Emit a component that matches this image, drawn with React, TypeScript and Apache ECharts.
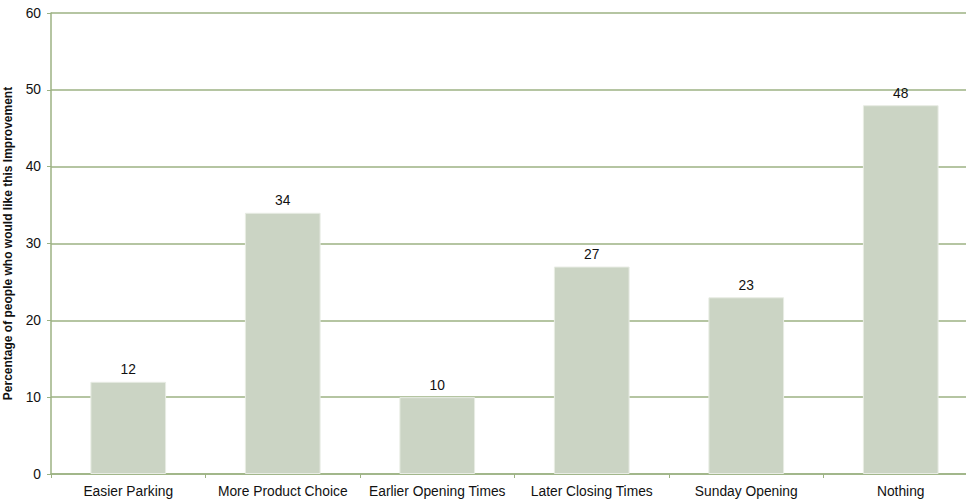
import React, { useEffect, useRef } from "react";
import * as echarts from "echarts";

const categories = [
  "Easier Parking",
  "More Product Choice",
  "Earlier Opening Times",
  "Later Closing Times",
  "Sunday Opening",
  "Nothing",
];
const values = [12, 34, 10, 27, 23, 48];
const yTicks = { min: 0, max: 60, interval: 10 };
const yTitle = "Percentage of people who would like this Improvement";

export default function App() {
  const ref = useRef<HTMLDivElement>(null);
  useEffect(() => {
    document.body.style.margin = "0";
    document.body.style.overflow = "hidden";
    const chart = echarts.init(ref.current!, null, { renderer: "svg" });
    const green = "#9cb283";
    chart.setOption({
      animation: false,
      textStyle: { fontFamily: "Liberation Sans, Arial, sans-serif" },
      grid: {
        left: 51,
        right: 12,
        top: 13,
        bottom: 25,
        containLabel: false,
        outerBoundsMode: "none",
      },
      xAxis: {
        type: "category",
        data: categories,
        axisLine: { lineStyle: { color: green, width: 1.5 } },
        axisTick: { show: true, length: 4, alignWithLabel: false, lineStyle: { color: green } },
        axisLabel: { color: "#111", fontSize: 13.8, margin: 10, interval: 0 },
      },
      yAxis: {
        type: "value",
        min: yTicks.min,
        max: yTicks.max,
        interval: yTicks.interval,
        name: yTitle,
        nameLocation: "middle",
        nameGap: 37,
        nameTextStyle: { fontWeight: "bold", fontSize: 12, color: "#111" },
        axisLine: { show: true, lineStyle: { color: green, width: 1.5 } },
        axisTick: { show: true, length: 4, lineStyle: { color: green } },
        axisLabel: { color: "#111", fontSize: 13.8, margin: 10 },
        splitLine: { lineStyle: { color: green, width: 1.5 } },
      },
      series: [
        {
          type: "bar",
          data: values,
          barWidth: "49%",
          itemStyle: { color: "#cbd4c4", borderColor: "#e8ece4", borderWidth: 1 },
          label: {
            show: true,
            position: "top",
            distance: 5,
            color: "#111",
            fontSize: 13.8,
          },
        },
      ],
    });
    return () => chart.dispose();
  }, []);
  return (
    <div style={{ width: 966, height: 499, overflow: "hidden", position: "relative" }}>
      <div ref={ref} style={{ width: 990, height: 499, position: "absolute", left: 0, top: 0 }} />
    </div>
  );
}
